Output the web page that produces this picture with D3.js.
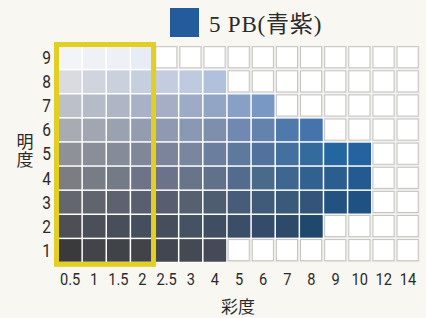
<!DOCTYPE html>
<html>
<head>
<meta charset="utf-8">
<script src="https://cdn.jsdelivr.net/npm/d3@7/dist/d3.min.js"></script>
<style>
  html, body { margin: 0; padding: 0; background: #f9f7f2; }
  svg { display: block; }
</style>
</head>
<body>
<svg id="chart" width="426" height="318"></svg>
<script>
// ---- data ----
const chromaLabels = ["0.5", "1", "1.5", "2", "2.5", "3", "4", "5", "6", "7", "8", "9", "10", "12", "14"];
const valueLabels = [9, 8, 7, 6, 5, 4, 3, 2, 1];
// colour chips per value (from lowest chroma up to the max chroma of that value)
const row9 = ["#f3f4f7", "#eff1f6", "#eef0f6", "#e8ecf5"];
const row8 = ["#d9dbe0", "#d0d4de", "#cbd1dc", "#c5cfdd", "#c4cce0", "#bfcae0", "#b1c1dc"];
const row7 = ["#bcc1c9", "#b5bbc7", "#afb5c5", "#a9b1c6", "#a5aec4", "#9eabc6", "#93a5c4", "#88a0c6", "#7a98c4"];
const row6 = ["#a8abb2", "#a1a6b2", "#9aa1b0", "#939daf", "#8f99b1", "#8a99b3", "#7e8fad", "#7189b0", "#6383ad", "#5079ab", "#4574ad"];
const row5 = ["#8e9198", "#8a8e99", "#858b99", "#7f8799", "#7b849b", "#78879d", "#6c7e9d", "#5d799d", "#52729d", "#43709e", "#346b9d", "#2466a0", "#2463a0"];
const row4 = ["#7b7d82", "#787c85", "#747a86", "#6e7387", "#6b7289", "#677489", "#617189", "#536c8e", "#4a6a8c", "#3e6690", "#30618f", "#2a5e8e", "#235a8f"];
const row3 = ["#63666c", "#60646d", "#5e626e", "#5a5f6f", "#585d70", "#56606f", "#4f5d71", "#465c78", "#405a79", "#3a5a7a", "#33557a", "#245280", "#1f5283"];
const row2 = ["#4e4f56", "#4b4f59", "#484f5b", "#454e5c", "#464e5c", "#445264", "#404e62", "#3b4e68", "#344b69", "#2d4a6b", "#1f486c"];
const row1 = ["#3a3a3c", "#424449", "#404449", "#404449", "#414650", "#444953", "#454a56"];
const rows = [row9, row8, row7, row6, row5, row4, row3, row2, row1];
const highlightChroma = ["0.5", "1", "1.5", "2"];
const legendLabel = "5 PB(青紫)";
const legendColor = "#245b9c";
const yTitle = "明度";
const xTitle = "彩度";

// ---- drawing ----
const svg = d3.select("#chart");
svg.append("rect").attr("width", 426).attr("height", 318).attr("fill", "#f9f7f2");

const x = d3.scaleBand().domain(chromaLabels).range([58, 420]).padding(0);
const y = d3.scaleBand().domain(valueLabels).range([45.5, 262.5]).padding(0);
const sw = x.bandwidth(), sh = y.bandwidth();

// cells
const cells = [];
valueLabels.forEach((v, ri) => {
  chromaLabels.forEach((c, ci) => {
    cells.push({ v, c, color: rows[ri][ci] || null });
  });
});

const g = svg.append("g");
// white backing under coloured chips
cells.filter(d => d.color).forEach(d => {
  g.append("rect")
    .attr("x", x(d.c) - 0.5).attr("y", y(d.v) - 0.5)
    .attr("width", sw + 1).attr("height", sh + 1)
    .attr("fill", "#ffffff");
});
// empty chips
cells.filter(d => !d.color).forEach(d => {
  g.append("rect")
    .attr("x", x(d.c) + 0.3).attr("y", y(d.v) + 0.3)
    .attr("width", sw - 0.6).attr("height", sh - 0.6)
    .attr("fill", "#ecebe7");
  g.append("rect")
    .attr("x", x(d.c) + 1.2).attr("y", y(d.v) + 1.2)
    .attr("width", sw - 3).attr("height", sh - 3)
    .attr("fill", "#ffffff")
    .attr("stroke", "#c4c4c4")
    .attr("stroke-width", 1);
});
// coloured chips
cells.filter(d => d.color).forEach(d => {
  g.append("rect")
    .attr("x", x(d.c) + 0.75).attr("y", y(d.v) + 0.75)
    .attr("width", sw - 1.5).attr("height", sh - 1.5)
    .attr("fill", d.color);
});

// yellow highlight frame
const hx0 = x(highlightChroma[0]) - 1.5;
const hx1 = x(highlightChroma[highlightChroma.length - 1]) + sw - 1;
const hy0 = y(valueLabels[0]) - 1;
const hy1 = y(valueLabels[valueLabels.length - 1]) + sh + 1.8;
svg.append("rect")
  .attr("x", hx0).attr("y", hy0)
  .attr("width", hx1 - hx0).attr("height", hy1 - hy0)
  .attr("fill", "none")
  .attr("stroke", "#e3cf22")
  .attr("stroke-width", 5);

// axes
const labelFont = "Roboto, 'Liberation Sans', sans-serif";
const xAxis = svg.append("g")
  .attr("transform", `translate(0,${262.5})`)
  .call(d3.axisBottom(x).tickSize(0).tickPadding(10));
xAxis.select(".domain").remove();
xAxis.selectAll("text")
  .attr("font-family", labelFont)
  .attr("font-size", 17)
  .attr("fill", "#2a2a2a")
  .attr("transform", "scale(0.86,1)");

const yAxis = svg.append("g")
  .attr("transform", `translate(51,0)`)
  .call(d3.axisLeft(y).tickSize(0).tickPadding(0));
yAxis.select(".domain").remove();
yAxis.selectAll("text")
  .attr("font-family", labelFont)
  .attr("font-size", 18)
  .attr("fill", "#2a2a2a")
  .attr("dy", "0.36em")
  .attr("transform", "scale(0.86,1)");

// axis titles
svg.append("text")
  .attr("x", 25).attr("y", 151)
  .attr("text-anchor", "middle")
  .attr("writing-mode", "vertical-rl")
  .attr("font-family", "'Noto Sans CJK JP', sans-serif")
  .attr("font-size", 17)
  .attr("letter-spacing", 1)
  .attr("fill", "#2a2a2a")
  .text(yTitle);
svg.append("text")
  .attr("x", 238).attr("y", 313)
  .attr("text-anchor", "middle")
  .attr("font-family", "'Noto Sans CJK JP', sans-serif")
  .attr("font-size", 17)
  .attr("fill", "#2a2a2a")
  .text(xTitle);

// legend
svg.append("rect")
  .attr("x", 170).attr("y", 8).attr("width", 29).attr("height", 29)
  .attr("fill", legendColor);
svg.append("text")
  .attr("x", 209).attr("y", 32)
  .attr("font-family", "'Liberation Serif', 'Noto Sans CJK JP', serif")
  .attr("font-size", 23)
  .attr("letter-spacing", 0.8)
  .attr("fill", "#2a2a2a")
  .text(legendLabel);
</script>
</body>
</html>
